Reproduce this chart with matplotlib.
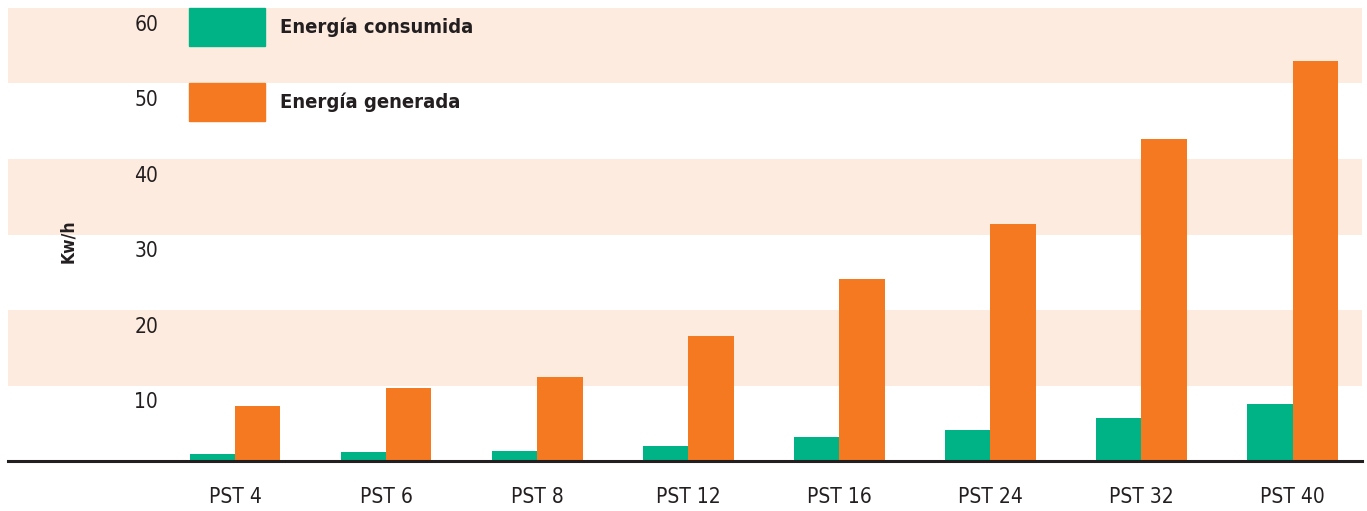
import matplotlib
matplotlib.use("Agg")
import matplotlib.pyplot as plt
from matplotlib.patches import Patch
import numpy as np

# dati
categorie = ['PST 4', 'PST 6', 'PST 8', 'PST 12', 'PST 16', 'PST 24', 'PST 32', 'PST 40']
consumida = [0.9, 1.2, 1.3, 2.0, 3.2, 4.1, 5.7, 7.5]
generada = [7.3, 9.7, 11.1, 16.6, 24.1, 31.4, 42.6, 53.0]
y_ticks = [10, 20, 30, 40, 50, 60]

verde = '#00B386'
arancio = '#F47920'
banda = '#FEEBDF'
testo = '#231F20'

plt.rcParams['font.family'] = ['DejaVu Sans']
plt.rcParams['font.stretch'] = 'condensed'

fig = plt.figure(figsize=(13.67, 5.11), dpi=100)
ax = fig.add_axes([8 / 1367, 50 / 511, 1354 / 1367, 453 / 511])

# bande orizzontali
for lo in [10, 30, 50]:
    ax.axhspan(lo, lo + 10, color=banda, lw=0, zorder=0)

x = np.arange(len(categorie))
w = 0.30
ax.bar(x - w / 2, consumida, w, color=verde, zorder=2)
ax.bar(x + w / 2, generada, w, color=arancio, zorder=2)

ax.set_xlim(-1.503, 7.46)
ax.set_ylim(0, 60)

for s in ['top', 'right', 'left']:
    ax.spines[s].set_visible(False)
ax.spines['bottom'].set_color(testo)
ax.spines['bottom'].set_linewidth(2.2)
ax.spines['bottom'].set_zorder(3)

ax.set_yticks([])
ax.set_xticks(x)
ax.set_xticklabels(categorie, fontsize=15, color=testo)
ax.tick_params(axis='x', length=0, pad=19)

# etichette asse y sotto ogni linea
for v in y_ticks:
    ax.text(-0.51, v - 0.9, str(v), ha='right', va='top', fontsize=15, color=testo)

fig.text(68 / 1367, 1 - 241 / 511, 'Kw/h', rotation=90, ha='center', va='center',
         fontsize=12.5, fontweight='bold', color=testo)

handles = [Patch(color=verde), Patch(color=arancio)]
ax.legend(handles, ['Energía consumida', 'Energía generada'],
          loc='upper left', bbox_to_anchor=((189 - 8) / 1354, 1.0),
          frameon=False, prop={'weight': 'bold', 'size': 14.5},
          handlelength=3.78, handleheight=2.52, labelspacing=1.84,
          handletextpad=0.75, borderpad=0, borderaxespad=0, labelcolor=testo)

plt.savefig('out.png', dpi=100)
